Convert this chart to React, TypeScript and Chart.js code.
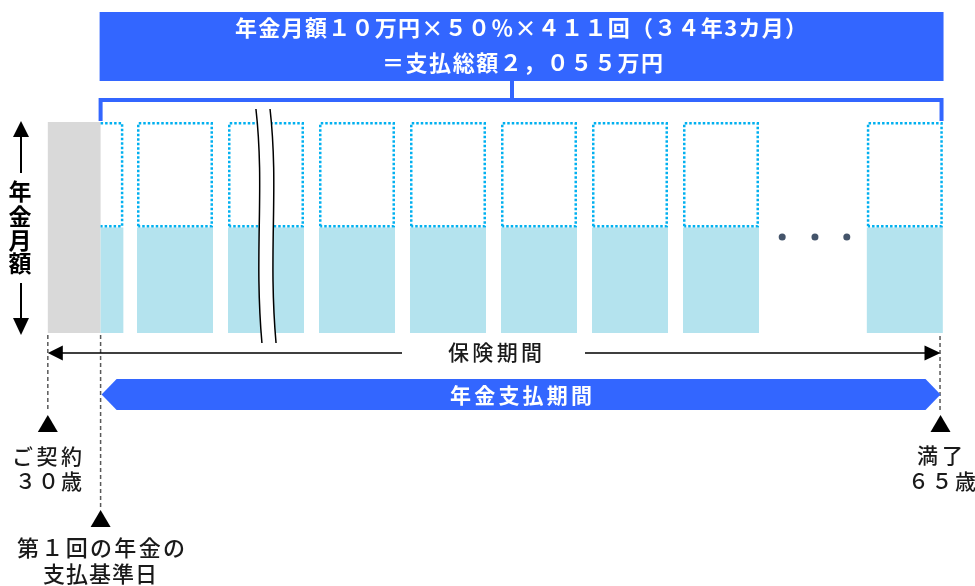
import React, { useEffect, useRef } from "react";
import { Chart, registerables } from "chart.js";

Chart.register(...registerables);

// Timeline expressed in "payment year" units (one column = one year)
const contractStart = -0.98; // ご契約 30歳
const paymentStart = -0.4; // 第1回の年金の支払基準日
const maturity = 8.83; // 満了 65歳
const columnStarts = [0, 1, 2, 3, 4, 5, 6, 8.02];
const partialColumn = [-0.4, -0.15];
const fullMonthly = 100; // 年金月額 (100%)
const paidShare = 50; // 50%
const ellipsisX = [7.09, 7.45, 7.8];
const ellipsisY = [45.5, 45.5, 45.5];
const breakAt = [1.34, 1.495];

const headline = ["年金月額１０万円×５０％×４１１回（３４年3カ月）", "＝支払総額２，０５５万円"];
const axisLabel = ["年", "金", "月", "額"];
const periodLabel = "保険期間";
const paymentLabel = "年金支払期間";
const contractLabel = ["ご契約", "３０歳"];
const firstPayLabel = ["第１回の年金の", "支払基準日"];
const maturityLabel = ["満了", "６５歳"];

const FONT = '"Noto Sans CJK JP", "Noto Sans", sans-serif';
const BLUE = "#3366FF";

function fitText(ctx: CanvasRenderingContext2D, text: string, cx: number, cy: number, width: number) {
  const chars = Array.from(text);
  const ws = chars.map((c) => ctx.measureText(c).width);
  const sum = ws.reduce((a, b) => a + b, 0);
  const extra = chars.length > 1 ? (width - sum) / (chars.length - 1) : 0;
  let x = chars.length > 1 ? cx - width / 2 : cx - sum / 2;
  ctx.textAlign = "left";
  ctx.textBaseline = "middle";
  chars.forEach((c, i) => {
    ctx.fillText(c, x, cy);
    x += ws[i] + extra;
  });
}

function tri(ctx: CanvasRenderingContext2D, cx: number, topY: number, w: number, h: number) {
  ctx.beginPath();
  ctx.moveTo(cx, topY);
  ctx.lineTo(cx + w / 2, topY + h);
  ctx.lineTo(cx - w / 2, topY + h);
  ctx.closePath();
  ctx.fill();
}

const diagramPlugin = {
  id: "diagram",
  beforeDatasetsDraw(chart: any) {
    const { ctx, chartArea: a } = chart;
    const xs = chart.scales.x;
    const ys = chart.scales.y;
    const X = (v: number) => xs.getPixelForValue(v);
    const Y = (v: number) => ys.getPixelForValue(v);
    const xPay = X(paymentStart);
    const xEnd = X(maturity);
    const xCon = X(contractStart);
    ctx.save();

    // headline box
    ctx.fillStyle = BLUE;
    ctx.fillRect(xPay - 1, 12, xEnd + 3 - (xPay - 1), 69);
    ctx.fillStyle = "#FFFFFF";
    ctx.font = `bold 22px ${FONT}`;
    fitText(ctx, headline[0], 521, 28, 572);
    fitText(ctx, headline[1], 522.5, 63, 281);

    // bracket + connector
    ctx.strokeStyle = BLUE;
    ctx.lineWidth = 4;
    ctx.beginPath();
    ctx.moveTo(xPay, a.top - 1);
    ctx.lineTo(xPay, 100);
    ctx.lineTo(xEnd + 1, 100);
    ctx.lineTo(xEnd + 1, a.top - 1);
    ctx.moveTo(512, 80);
    ctx.lineTo(512, 100);
    ctx.stroke();

    // deferral (grey) period
    ctx.fillStyle = "#D9D9D9";
    ctx.fillRect(xCon, Y(fullMonthly), xPay - xCon, Y(0) - Y(fullMonthly));

    // columns
    const fillCol = "#B4E3EE";
    const dotCol = "#00B0F0";
    const drawCol = (x0: number, x1: number, leftEdge: boolean) => {
      ctx.fillStyle = fillCol;
      ctx.fillRect(x0, Y(paidShare), x1 - x0, Y(0) - Y(paidShare));
      ctx.strokeStyle = dotCol;
      ctx.lineWidth = 2.5;
      ctx.setLineDash([2.5, 2]);
      const t = Y(fullMonthly) + 1.25;
      const b = Y(paidShare) - 1.25;
      ctx.beginPath();
      if (leftEdge) {
        ctx.moveTo(x0 + 1.25, b);
        ctx.lineTo(x0 + 1.25, t);
      } else {
        ctx.moveTo(x0, t);
      }
      ctx.lineTo(x1 - 1.25, t);
      ctx.lineTo(x1 - 1.25, b);
      ctx.lineTo(leftEdge ? x0 + 1.25 : x0, b);
      ctx.stroke();
      ctx.setLineDash([]);
    };
    drawCol(X(partialColumn[0]), X(partialColumn[1]), false);
    columnStarts.forEach((s) => drawCol(X(s), X(s + 0.835), true));

    // break marks
    const bt = a.top - 13;
    const bb = a.bottom + 10;
    const curve = (x0: number, down: boolean) => {
      if (down) {
        ctx.lineTo(x0 - 3, bt);
        ctx.bezierCurveTo(x0 + 6, bt + 80, x0 - 5, bb - 90, x0 + 3, bb);
      } else {
        ctx.lineTo(x0 + 3, bb);
        ctx.bezierCurveTo(x0 - 5, bb - 90, x0 + 6, bt + 80, x0 - 3, bt);
      }
    };
    const b0 = X(breakAt[0]);
    const b1 = X(breakAt[1]);
    ctx.fillStyle = "#FFFFFF";
    ctx.beginPath();
    ctx.moveTo(b0 - 3, bt);
    curve(b0, true);
    curve(b1, false);
    ctx.closePath();
    ctx.fill();
    ctx.strokeStyle = "#000000";
    ctx.lineWidth = 1.5;
    [b0, b1].forEach((bx) => {
      ctx.beginPath();
      ctx.moveTo(bx - 3, bt);
      ctx.bezierCurveTo(bx + 6, bt + 80, bx - 5, bb - 90, bx + 3, bb);
      ctx.stroke();
    });

    // vertical axis arrows + label
    ctx.fillStyle = "#000000";
    ctx.strokeStyle = "#000000";
    ctx.lineWidth = 2;
    ctx.beginPath();
    ctx.moveTo(21, 136);
    ctx.lineTo(21, 173);
    ctx.moveTo(21, 283);
    ctx.lineTo(21, 319);
    ctx.stroke();
    tri(ctx, 21, a.top - 1, 16, 16);
    ctx.beginPath();
    ctx.moveTo(21, a.bottom + 2);
    ctx.lineTo(29, 318);
    ctx.lineTo(13, 318);
    ctx.closePath();
    ctx.fill();
    ctx.font = `bold 23px ${FONT}`;
    ctx.textAlign = "center";
    ctx.textBaseline = "middle";
    const ly = [191, 216, 240, 263];
    axisLabel.forEach((c, i) => ctx.fillText(c, 20, ly[i]));

    // dashed guide lines
    ctx.strokeStyle = "#595959";
    ctx.lineWidth = 1.5;
    ctx.setLineDash([4, 3]);
    ctx.beginPath();
    ctx.moveTo(xCon, a.bottom + 2);
    ctx.lineTo(xCon, 412);
    ctx.moveTo(xPay, a.bottom + 2);
    ctx.lineTo(xPay, 509);
    ctx.moveTo(xEnd - 0.5, a.bottom + 3);
    ctx.lineTo(xEnd - 0.5, 412);
    ctx.stroke();
    ctx.setLineDash([]);

    // 保険期間 arrow
    const py = 353;
    ctx.strokeStyle = "#000000";
    ctx.fillStyle = "#000000";
    ctx.lineWidth = 1.5;
    ctx.beginPath();
    ctx.moveTo(xCon + 10, py);
    ctx.lineTo(402, py);
    ctx.moveTo(585, py);
    ctx.lineTo(xEnd - 10, py);
    ctx.stroke();
    ctx.beginPath();
    ctx.moveTo(xCon, py);
    ctx.lineTo(xCon + 15, py - 7.5);
    ctx.lineTo(xCon + 15, py + 7.5);
    ctx.closePath();
    ctx.fill();
    ctx.beginPath();
    ctx.moveTo(xEnd, py);
    ctx.lineTo(xEnd - 16, py - 7.5);
    ctx.lineTo(xEnd - 16, py + 7.5);
    ctx.closePath();
    ctx.fill();
    ctx.fillStyle = "#1A1A1A";
    ctx.font = `500 21px ${FONT}`;
    fitText(ctx, periodLabel, 495, 352, 94);

    // 年金支払期間 band
    const bandT = 379;
    const bandB = 410;
    const bandM = (bandT + bandB) / 2;
    ctx.fillStyle = BLUE;
    ctx.beginPath();
    ctx.moveTo(xPay + 1, bandM);
    ctx.lineTo(xPay + 16, bandT);
    ctx.lineTo(xEnd - 15, bandT);
    ctx.lineTo(xEnd, bandM);
    ctx.lineTo(xEnd - 15, bandB);
    ctx.lineTo(xPay + 16, bandB);
    ctx.closePath();
    ctx.fill();
    ctx.fillStyle = "#FFFFFF";
    ctx.font = `bold 21px ${FONT}`;
    fitText(ctx, paymentLabel, 521, 395, 142);

    // event markers
    ctx.fillStyle = "#000000";
    tri(ctx, xCon, 415, 20, 17);
    tri(ctx, xPay, 510, 20, 17);
    tri(ctx, xEnd, 415, 20, 17);

    ctx.fillStyle = "#1A1A1A";
    ctx.font = `500 21px ${FONT}`;
    fitText(ctx, contractLabel[0], 47, 456, 70);
    fitText(ctx, contractLabel[1], 48.5, 481, 67);
    fitText(ctx, maturityLabel[0], 940, 455, 46);
    fitText(ctx, maturityLabel[1], 942, 481, 68);
    ctx.font = `500 22px ${FONT}`;
    fitText(ctx, firstPayLabel[0], 101, 548, 168);
    fitText(ctx, firstPayLabel[1], 100, 574, 114);

    ctx.restore();
  },
};

export default function App() {
  const ref = useRef<HTMLCanvasElement | null>(null);
  useEffect(() => {
    if (!ref.current) return;
    const chart = new Chart(ref.current, {
      type: "scatter",
      data: {
        datasets: [
          {
            data: ellipsisX.map((x, i) => ({ x, y: ellipsisY[i] })),
            pointRadius: 3.5,
            pointHoverRadius: 3.5,
            pointBackgroundColor: "#44546A",
            pointBorderWidth: 0,
          },
        ],
      },
      options: {
        animation: false,
        responsive: true,
        maintainAspectRatio: false,
        events: [],
        layout: { padding: { left: 46, right: 19, top: 122, bottom: 253 } },
        scales: {
          x: { type: "linear", min: -1, max: 9, display: false },
          y: { type: "linear", min: 0, max: 100, display: false },
        },
        plugins: { legend: { display: false }, tooltip: { enabled: false } },
      },
      plugins: [diagramPlugin],
    });
    return () => chart.destroy();
  }, []);
  return (
    <div style={{ position: "absolute", left: 0, top: 0, width: 975, height: 586, background: "#FFFFFF" }}>
      <canvas ref={ref} />
    </div>
  );
}
